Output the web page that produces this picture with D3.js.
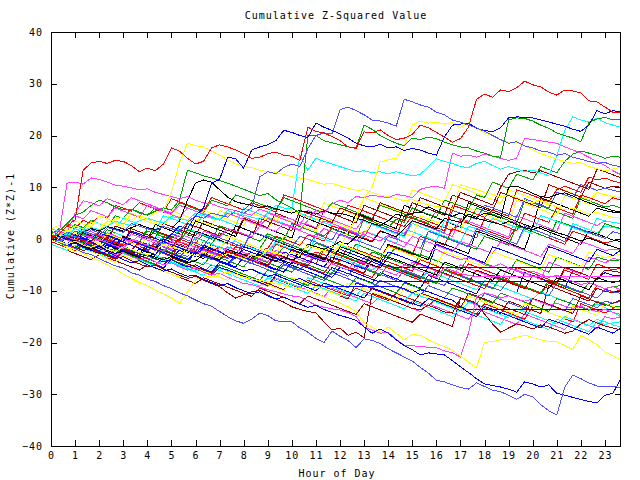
<!DOCTYPE html>
<html><head><meta charset="utf-8">
<script src="https://cdn.jsdelivr.net/npm/d3@7"></script>
<style>
body{margin:0;background:#fff}
text{font-family:"DejaVu Sans Mono",monospace;font-size:10px;letter-spacing:1px;fill:#000}
</style>
</head><body>
<svg id="c" width="640" height="480"></svg>
<script>
// ---- text / ticks ----
const chartTitle = "Cumulative Z-Squared Value";
const xTitle = "Hour of Day";
const yTitle = "Cumulative (Z*Z)-1";
const hourTicks = [0,1,2,3,4,5,6,7,8,9,10,11,12,13,14,15,16,17,18,19,20,21,22,23];
const valueTicks = [-40,-30,-20,-10,0,10,20,30,40];
const stepsPerHour = 3; // one reading every 20 minutes

// ---- series (cumulative values, one every 20 min) ----
const s01 = [0,1,2.5,3.7,13.3,14.7,15,14.6,15.2,15,14.2,13,
13.7,13.2,14.5,17.6,17,15.6,14.5,15,17.6,18.2,17.8,17.2,
16.5,15.6,15.8,16.5,16.8,16.2,16,15.2,21.6,20.8,20.5,19.8,
19,17.8,17.5,20.7,20.5,21.1,20,19.2,19.5,20.2,22,21.5,
20.6,19.7,18.7,19.4,21.6,27,28,27.4,28.8,28.5,29.2,30.5,
29.8,29.4,28.4,27.8,28.8,28.6,28.2,26.7,26.5,25.5,24.5,24.5];
const s02 = [0,-0.4,0.8,0.3,1.5,1,0.6,2.2,1.8,1.3,3,2.5,
2,1.6,2.4,2,1.5,3.2,4.5,4,5,4.6,4.2,5.5,
5,6,12,13,12.6,13.8,14.5,14,17.5,20,20.5,20.3,
25,25.5,24.8,24,23,22.8,22.4,21.8,27,26.5,25.9,25.5,
24.5,24,23,22.6,22,21.5,20.8,20,19.2,18.5,18.8,18,
17.6,17,16.8,16.2,16.5,15.8,15.4,15,14.6,14.8,14.2,14];
const s03 = [0,0.5,-0.2,0.8,0.3,-0.4,1.2,0.6,0.2,-0.5,1.5,1,
0.4,0.1,-0.5,0.9,2.5,2,4.5,6,10.8,11.5,15.8,15.5,
13.7,17.2,17.8,18.2,19,21,20.6,20,19.6,22.4,21.6,21,
20.3,19.5,18.5,18,17.8,18.3,17.6,17.8,17.1,17.5,17.2,16.6,
16.2,19.7,22,22.2,22.4,21.4,21,20.7,21.5,23.4,23.6,23.5,
23.4,23,22.6,22.2,21.8,21.2,20.8,22,24.8,24.2,24.8,24.5];
const s04 = [0,1.5,3,4.6,5.2,6.5,7.5,7,6.2,5.6,5.8,5,
4.6,5.4,6,5.6,7.5,13.3,12.8,12.2,11.8,11.3,10.8,10.2,
9.6,9,8.4,8.8,7.6,6.8,6,5,20,20,19,18.6,
18.2,17.8,17.6,22,21.2,20,19.2,18.5,18,19.5,19.2,19.7,
19.4,18.7,18.2,17.8,17.6,17,16.6,16,15.8,23,23.4,23.3,
22.8,22,21.4,20.5,20,19.5,18.8,22.5,23.2,23.5,23,23];
const s05 = [0,0.6,1.5,2.5,2,3.2,3,2.6,3.8,4.2,3.7,4.5,
4,5.2,5.3,9,14.7,18.5,18,17.8,17,16.2,15.3,14.5,
14,13.8,13.3,13,12.8,12.5,12,11.8,11.5,11,10.6,10.8,
10.2,9.8,9.4,9.5,9,8.5,8.2,7.8,7.4,7.7,7,6.6,
6.2,6.5,5.8,10.5,10,9.6,9,8.6,8.2,8.6,8,7.4,
7,7.5,6.8,6.2,5.6,6,5.4,4.8,5.2,4.6,4.2,4];
const s06 = [0,-0.5,-1,-0.4,-1.2,-1.6,-1,-2,-2.4,-1.5,-2,-2.6,
-3,-2.4,-1,-1.6,-2,-2.8,-3.2,-2.5,-3,-3.5,-2.8,-3.3,
-3.8,-3,-3.5,-2.2,-2.8,-3.2,-2.6,-3,-1.2,-1.8,-2.2,-1.5,
-2,1.5,4,8,10,14.9,15.3,15.6,18,22,22.8,22.4,
22.6,22.2,22.6,21.6,22.5,21.5,20.5,20,19.2,18.7,18.6,18,
17.2,16.5,16,15.4,15,14.6,14.8,14,13.6,13.2,13.5,13.9];
const s07 = [0,0.4,1,0.5,1.6,2.2,1.8,2.5,3.4,3,2.6,3.5,
4,3.5,3.1,4.4,4,3.6,5,4.5,4,3.7,5.5,5,
4.6,4.2,3.8,5,6.5,6,5.8,16.2,13.3,15.6,15,14.5,
14,13.5,13,13.2,12.8,13,12.6,13,12.6,12.2,12.5,14,
15.5,15,14.6,14,13.8,14.6,15,14.2,13.5,14,13.6,13,
13.3,12.8,12.2,16,21,23.6,23,22.6,23.4,22.5,22,21.6];
const s08 = [0,1,10.8,11,10.6,11.8,11.5,11,10.4,10.2,9.9,9.5,
9.7,9,8.6,8.2,7.8,8.2,7.5,7,6.8,6.2,5.8,5.5,
5,4.6,5.8,5.2,4.6,4.2,3.8,3.2,2.8,2.2,3.5,3,
2.4,1.8,1.2,0.8,0.2,-0.4,0.8,0.2,-0.6,-1.2,-1.8,-2.4,
-2,-2.8,-3.4,-4,-3.6,-4.2,-5,-5.4,-4.8,-5.6,-6.2,-6.8,
-6.2,-6.8,-7.4,-7,-7.6,-8.2,-8.8,-8.4,-9,-9.6,-9.2,-9.8];
const s09 = [0,-0.6,0.5,-0.2,0.8,0.2,-0.4,1.2,0.6,0,-0.6,0.8,
0.2,-0.4,-1,-0.5,0.9,0.4,-0.2,1.5,1,0.4,2,1.6,
1,0.4,2.5,2,1.5,3,2.4,1.8,3.6,5.5,5,6.8,
7.5,7,8.2,8,8.5,8.2,8,8.6,8.4,8,9.6,10,
10.2,9.8,16.6,16,16.2,15.8,16.4,16,15.6,15.2,15.6,19.5,
19.2,19,18.7,18.5,17.8,17.2,16.6,15.8,15,14.2,13.2,12.4];
const s10 = [0,0.5,1,0.6,1.4,2,1.6,2.4,2,1.5,2.2,2.8,
2.2,1.8,2.4,2,3.5,7.5,10.8,11.4,11,9.5,8.1,7.2,
6.8,6.5,6,6.4,5.8,5.4,5,5.5,5.2,4.8,5.4,5,
5,4.6,4,3.6,3,2.6,3.5,4.8,4.4,5,5.2,6.2,
5.5,4.8,4.4,5,4.4,4,3.6,3.2,2.8,3.4,2.8,2.2,
1.8,2.4,1.8,1.2,0.8,0.2,-0.4,0.2,-0.4,-1,-1.5,-2];
const s11 = [0,-0.5,-1,-0.6,-1.4,-2,-1.5,-2.2,-2.8,-2.4,-3,-3.6,
-3,-3.5,-4,-3.4,-4,-4.6,-4.2,-3,-3.6,-4,-2,-2.6,
-3,-3.5,-3,-3.8,-4.2,-3.6,-4,-3.4,-1,-1.5,-2,-1.4,
-0.5,-1,0.5,0,-0.6,1.5,1,0.4,2,3.5,3,2.5,
2,4,3.6,3.2,4.8,4.2,5,4.6,4,10,10.2,9.6,
8.8,8.2,8,8.6,8.9,8.3,7.6,7,6.4,6,5.5,5.2];
const s12 = [0,-0.6,-1.3,-1.8,-2.6,-3,-3.8,-4.5,-5.2,-5.6,-6.5,-7,
-7.8,-8.2,-9,-9.6,-10.4,-11,-11.8,-12.5,-13,-14,-15,-15.8,
-16.3,-15.5,-14.3,-14.8,-15.8,-16,-16,-17.2,-18,-19.2,-20,-17.8,
-18.8,-19.6,-21,-19.3,-19.6,-20.2,-21.2,-22,-22.8,-23.6,-24.8,-25.9,
-27.3,-27.6,-28.2,-28.7,-29,-27.8,-28.5,-29.2,-29.5,-30.2,-31,-30,
-30.5,-32,-33.2,-34,-28.6,-26.3,-27,-27.8,-28.4,-28.6,-28.4,-28.8];
const s13 = [0,-0.5,-1.2,-0.8,-1.6,-2.2,-2.8,-2.4,-3.2,-4,-4.6,-4.2,
-5,-5.6,-6.2,-5.8,-6.6,-7.2,-7,-7.8,-8.4,-9,-8.6,-9.4,
-10,-10.6,-10.2,-11,-11.6,-11.2,-12,-12.6,-13.2,-12.8,-13.6,-14.2,
-14.8,-15.2,-15.7,-17,-18.2,-17.4,-18.2,-19.5,-20.6,-21.4,-22.4,-22,
-22.2,-22.4,-23.5,-24.7,-25.8,-27,-28,-28.3,-28.6,-29,-29.6,-27.6,
-28,-28.6,-28.2,-29.8,-30.2,-30.6,-31,-31.4,-31.7,-30.2,-29.8,-26.9];
const s14 = [0,-0.6,-1.4,-2,-2.8,-3.5,-4.2,-5,-5.8,-6.8,-7.6,-8.4,
-9,-9.9,-10.6,-11.4,-12.4,-10.2,-8,-7,-7.4,-6.8,-6.4,-6.8,
-7.4,-7.8,-8,-8.3,-8.6,-9,-9.4,-9.6,-9.8,-10.6,-11.2,-11.8,
-12.4,-13.1,-14,-16.2,-17,-18,-17,-18.2,-19.5,-18.5,-18.6,-19.5,
-20.2,-20.8,-21.5,-22.6,-23.8,-24.9,-20,-19.8,-19.5,-19.5,-19,-18.6,
-19,-19.5,-19.8,-19.9,-20.6,-21.4,-18.6,-19.5,-20.4,-21.8,-22.6,-23.4];
const s15 = [0,-0.4,-1,-0.6,-1.4,-2,-1.6,-2.4,-3,-2.6,-3.4,-4,
-3.6,-4.4,-5,-4.6,-5.4,-6,-5.6,-6.4,-7,-6.6,-7.4,-8,
-8.6,-8.8,-9.3,-9.8,-10.2,-10.6,-11,-11.2,-12,-12.8,-13.2,-13.5,
-13.7,-14.2,-15,-17,-17.6,-18.2,-18,-19.4,-20.5,-20.6,-20.8,-20.9,
-21,-21.6,-22,-22.8,-18.2,-11.2,-10.4,-10.8,-11.4,-11,-11.6,-12,
-11.6,-12.2,-12.8,-12.4,-13,-13.4,-13,-13.6,-14,-13.6,-14.2,-14.6];
const s16 = [0,-0.5,-1,-1.6,-2.2,-1.8,-2.6,-3.2,-3.8,-3.4,-4.2,-4.8,
-5.4,-5,-5.8,-6.4,-7,-7.6,-7.2,-8,-8.6,-9.2,-10.4,-11.4,
-10.8,-10.2,-9.9,-10.8,-11.6,-12.2,-13.1,-13.6,-14,-14.3,-16,-17.6,
-17.2,-18.6,-18,-19.1,-10.5,-11,-11.6,-12.2,-12.8,-13.4,-13.7,-12.8,
-13.4,-14.1,-14.3,-11.4,-11.8,-12.4,-14.5,-16.4,-18,-17.2,-16.4,-16.8,
-17.4,-16.6,-17,-17.6,-18.2,-17.8,-16.4,-15.6,-16.2,-16.8,-17.2,-17.6];
const s17 = [0,-0.5,0.8,0.2,-0.4,-1,0.6,0,-0.6,-1.2,-0.8,-1.4,
-2,-1.6,0.5,0,-0.6,-1.2,-0.8,1,0.4,-0.2,-0.8,-1.4,
-1,-1.6,-2.2,-1.8,0.5,0,-0.6,-1.2,0.8,0.2,-0.4,2.5,
2,1.4,0.8,0.2,-0.4,1.6,1,0.4,4.5,4,3.4,2.8,
2.2,1.6,6.5,6,5.4,4.8,4.2,5.6,5,4.4,9.5,9,
8.4,7.8,7.2,9.5,10.2,9.6,9,12,11.4,11.8,11.2,10.8];
const s18 = [0,0.6,0.2,-0.4,1,0.5,-0.1,-0.6,1.2,0.6,0,-0.5,
1.5,1,0.4,-0.2,-0.6,1.8,1.2,0.6,0,2.5,2,1.4,
0.8,0.2,-0.4,1,0.4,-0.2,3,2.4,1.8,1.2,0.6,2,
1.4,0.8,0.2,4,3.4,2.8,2.2,3.8,3.2,6,5.4,4.8,
4.2,7.5,7,6.4,5.8,8.5,8,11,10.4,9.8,12.5,12,
11.4,14,13.4,12.8,15,16.4,17,16.6,16.2,15.6,16,15.8];
const s19 = [0,-0.8,0.4,-0.2,-0.9,-1.5,-1,-1.8,-2.4,-1.6,-2.2,-2.8,
-2.2,-1,-1.6,-2.2,-2.8,-3.4,-1.5,-2,-2.6,-3.2,-3.8,-3.2,
-2,-2.6,-3.2,-2.5,-0.5,-1,-1.6,-2.2,-1.6,1,0.4,-0.2,
2.2,1.6,1,0.4,3,2.4,1.8,1.2,0.6,3.5,3,2.4,
1.8,1.2,5.5,5,4.4,3.8,6.5,6,5.4,4.8,4.2,7.8,
7.2,6.6,6,9,8.5,8,10.5,10,9.4,9.8,9.4,9.1];
const s20 = [0,0.5,1.2,0.6,0,-0.6,1.5,1,0.4,-0.2,-0.8,0.8,
0.2,-0.4,-1,-1.6,0,-0.6,-1.2,-1.8,-2.4,-1.5,-2,-2.6,
-3.2,-2.6,-3.2,-3.8,-1,-1.6,-2.2,-2.8,-3.4,-2.5,-3,-3.6,
-4.2,-1.5,-2,-2.6,-3.2,-3.8,-1.2,-1.8,-2.4,-3,0.5,0,
-0.6,-1.2,2,1.4,0.8,0.2,4,3.4,2.8,2.2,1.6,5,
4.4,3.8,3.2,6,5.4,4.8,8.5,8,7.4,6.8,8,7.5];
const s21 = [0,-0.5,-1.2,-0.4,-1,-1.6,-2.2,-1.2,-1.8,-2.4,-3,-2,
-2.6,-3.2,-3.8,-4.4,-2,-2.6,-3.2,-3.8,-1,-1.6,-2.2,-2.8,
-3.4,-4,-2.5,-3,-3.6,-4.2,-4.8,-2,-2.6,-3.2,-3.8,-4.4,
-1.5,-2,-2.6,-3.2,-3.8,-4.4,-1,-1.6,-2.2,-2.8,-3.4,-4,
-0.5,-1,-1.6,-2.2,-2.8,1.5,1,0.4,-0.2,-0.8,-1.4,-2,
2.5,2,1.4,0.8,0.2,-0.4,-1,1.5,1,0.4,-0.2,-0.5];
const s22 = [0,1.2,0.6,2,1.4,0.8,0.2,1,0.4,-0.2,-0.8,-1.4,
0.5,0,-0.6,-1.2,2.5,2,1.4,0.8,0.2,-0.4,-1,-0.5,
-1.1,-1.7,-2.3,-2.9,-0.8,-1.4,-2,-2.6,-3.2,-3.8,-4.4,-3,
-3.6,-4.2,-4.8,-5.4,-6,-4.8,-5.4,-6,-6.6,-7.2,-7.8,-6.2,
-6.8,-7.4,-8,-8.6,-9.2,-9.8,-8,-8.6,-9.2,-9.8,-10.4,-11,
-11.6,-10.2,-10.8,-11.4,-12,-12.6,-13.2,-13.8,-12.5,-13.2,-14.2,-15];
const s23 = [0,-0.6,-1.2,-0.4,-1,-1.6,-2.2,-2.8,-2,-2.6,-3.2,-3.8,
-4.4,-3.2,-3.8,-4.4,-5,-5.6,-6.2,-4.5,-5,-5.6,-6.2,-6.8,
-7.4,-8,-6.5,-7,-7.6,-8.2,-8.8,-9.4,-7.5,-8,-8.6,-9.2,
-9.8,-10.4,-11,-9,-9.6,-10.2,-10.8,-11.4,-12,-10.5,-11,-11.6,
-12.2,-12.8,-13.4,-14,-12.2,-12.8,-13.4,-14,-14.6,-15.2,-13.5,-14,
-14.6,-15.2,-15.8,-16.4,-15,-15.6,-16.2,-16.8,-15.5,-16,-16.6,-17];
const s24 = [0,-0.3,-1,-1.6,-1,-1.8,-2.4,-3,-3.6,-2.5,-3.2,-3.8,
-4.4,-5,-5.6,-4,-4.6,-5.2,-5.8,-6.4,-7,-5.5,-6,-6.6,
-7.2,-7.8,-8.4,-9,-7,-7.6,-8.2,-8.8,-9.4,-10,-8.5,-9,
-9.6,-10.2,-10.8,-11.4,-9.5,-10,-10.6,-11.2,-11.8,-12.4,-13,-11.5,
-12,-12.6,-13.2,-13.8,-14.4,-15,-13,-13.6,-14.2,-14.8,-15.4,-16,
-16.6,-17.2,-15.5,-16,-16.6,-17.2,-17.8,-18.4,-17,-17.6,-18.2,-17.2];
const s25 = [0,0.4,-0.2,-0.8,1.5,1,0.4,-0.2,-0.8,-1.4,-2,-1,
-1.6,-2.2,-2.8,-3.4,-1.2,-1.8,-2.4,-3,-3.6,-4.2,-2.5,-3,
-3.6,-4.2,-4.8,-5.4,-3,-3.6,-4.2,-4.8,-5.4,-6,-6.6,-4.5,
-5,-5.6,-6.2,-6.8,-7.4,-5,-5.6,-6.2,-6.8,-7.4,-8,-8.6,
-6,-6.6,-7.2,-7.8,-8.4,-9,-9.6,-7,-7.6,-8.2,-8.8,-9.4,
-10,-10.6,-8.5,-9,-9.6,-10.2,-10.8,-11.4,-9,-9.6,-10.2,-9.9];
const s26 = [0,-0.8,-1.4,-2,-1.2,-1.8,-2.4,-3,-1.5,-2,-2.6,-3.2,
-3.8,-4.4,-5,-3.6,-4.2,-4.8,-5.4,-6,-6.6,-5,-5.6,-6.2,
-6.8,-7.4,-8,-8.6,-9.2,-9.8,-7.5,-8,-8.6,-9.2,-9.8,-10.4,
-11,-11.6,-8.5,-9,-9.6,-10.2,-10.8,-11.4,-12,-12.6,-10.5,-11,
-11.6,-12.2,-12.8,-13.4,-10.5,-11,-11.6,-12.2,-12.8,-13.4,-14,-14.6,
-11.5,-12,-12.6,-13.2,-13.8,-14.4,-11,-11.6,-12.2,-12.8,-12.4,-11.8];
const s27 = [0,0.8,0.2,1.5,1,0.4,-0.2,1.8,1.2,0.6,0,-0.6,
2,1.4,0.8,0.2,1.5,0.9,0.3,-0.3,-0.9,1.2,0.6,0,
-0.6,-1.2,-1.8,0.5,0,-0.6,-1.2,-1.8,-2.4,-0.8,-1.4,-2,
-2.6,-3.2,-1,-1.6,-2.2,-2.8,-3.4,-1.5,-2,-2.6,-3.2,1.5,
1,0.4,-0.2,-0.8,-1.4,-2,0.5,0,-0.6,-1.2,2.5,2,
1.4,0.8,0.2,3.5,3,2.4,1.8,1.2,0.6,3,2.4,2];
const s28 = [0,1.5,1,0.4,2,1.4,0.8,0.2,-0.4,-1,1,0.4,
-0.2,-0.8,-1.4,-2,-0.5,-1,-1.6,-2.2,-2.8,-3.4,-1.5,-2,
-2.6,-3.2,-3.8,-4.4,-2.2,-2.8,-3.4,-4,-4.6,-3,-3.6,-4.2,
-4.8,-5.4,-6,-3.5,-4,-4.6,-5.2,-5.8,-6.4,-4.5,-5,-5.6,
-6.2,-6.8,-7.4,-5,-5.6,-6.2,-6.8,-7.4,-8,-5.5,-6,-6.6,
-7.2,-7.8,-4.5,-5,-5.6,-6.2,-6.8,-3.5,-4,-4.6,-3.8,-4];
const s29 = [0,-0.8,-1.6,-2.4,-1.5,-2.2,-3,-3.8,-4.6,-3.2,-3.8,-4.4,
-5,-5.6,-6.2,-6.8,-7.4,-5,-5.6,-6.2,-6.8,-7.4,-8,-6.5,
-7,-7.6,-8.2,-8.8,-9.4,-10,-7.5,-8,-8.6,-9.2,-9.8,-10.4,
-11,-8.5,-9,-9.6,-10.2,-10.8,-11.4,-12,-9.5,-10,-10.6,-11.2,
-11.8,-12.4,-13,-13.6,-11,-11.6,-12.2,-12.8,-13.4,-14,-14.6,-12.5,
-13,-13.6,-14.2,-14.8,-15.4,-13,-13.6,-14.2,-14.8,-12.5,-13,-13.6];
const s30 = [0,0.5,-0.2,-0.9,0.8,0.2,-0.4,-1,-1.6,0.2,-0.4,-1,
-1.6,-2.2,-2.8,-1,-1.6,-2.2,-2.8,-3.4,-4,-2.5,-3,-3.6,
-4.2,-4.8,-3,-3.6,-4.2,-4.8,-5.4,-6,-4.2,-4.8,-5.4,-6,
-6.6,-7.2,-5,-5.6,-6.2,-6.8,-7.4,-8,-6,-6.6,-7.2,-7.8,
-8.4,-9,-6.5,-7,-7.6,-8.2,-8.8,-9.4,-10,-8,-8.6,-9.2,
-9.8,-10.4,-11,-8.5,-9,-9.6,-10.2,-10.8,-11.4,-9.8,-10.2,-10.5];
const s31 = [0,-0.6,1,0.4,-0.2,-0.8,-1.4,0.5,0,-0.6,-1.2,-1.8,
-2.4,-0.5,-1,-1.6,-2.2,-2.8,-3.4,-1.8,-2.4,-3,-3.6,-1.5,
-2,-2.6,-3.2,-3.8,-4.4,-2.5,-3,-3.6,-4.2,-4.8,-2,-2.6,
-3.2,-3.8,-4.4,-5,-3.2,-3.8,-4.4,-5,-5.6,-6.2,-4,-4.6,
-5.2,-5.8,-6.4,-7,-4.8,-5.4,-6,-6.6,-7.2,-7.8,-5.5,-6,
-6.6,-7.2,-7.8,-8.4,-6,-6.6,-7.2,-7.8,-4.8,-5.4,-6,-5.6];
const s32 = [0,0.6,0,-0.6,-1.2,0.5,0,-0.6,-1.2,-1.8,-2.4,-0.5,
-1,-1.6,-2.2,-2.8,-1,-1.6,-2.2,-2.8,-3.4,-4,-2,-2.6,
-3.2,-3.8,-4.4,-5,-2.8,-3.4,-4,-4.6,-5.2,-3,-3.6,-4.2,
-4.8,-5.4,-6,-6.6,-4,-4.6,-5.2,-5.8,-6.4,-7,-7.6,-5.5,
-6,-6.6,-7.2,-7.8,-8.4,-6,-6.6,-7.2,-7.8,-8.4,-9,-9.6,
-7,-7.6,-8.2,-8.8,-5.5,-6,-6.6,-7.2,-7.8,-6,-6.2,-6.5];
const s33 = [0,-0.4,-1,-1.6,-0.5,-1.1,-1.7,-2.3,-2.9,-1.5,-2.1,-2.7,
-3.3,-3.9,-2,-2.6,-3.2,-3.8,-4.4,-5,-3,-3.6,-4.2,-4.8,
-5.4,-3.5,-4,-4.6,-5.2,-5.8,-6.4,-4.5,-5,-5.6,-6.2,-6.8,
-4,-4.6,-5.2,-5.8,-6.4,-7,-5,-5.6,-6.2,-6.8,-7.4,-8,
-8.6,-6,-6.6,-7.2,-7.8,-8.4,-9,-9.6,-7.5,-8,-8.6,-9.2,
-9.8,-10.4,-8,-8.6,-9.2,-9.8,-10.4,-8.5,-9,-9.6,-9.2,-9];
const s34 = [0,-0.6,0.8,0.2,1.6,1,0.4,-0.2,1.2,0.6,0,-0.6,
-1.2,0.5,0,-0.6,-1.2,-1.8,0.2,-0.4,-1,-1.6,-2.2,0,
-0.6,-1.2,-1.8,-2.4,-0.5,-1,-1.6,-2.2,-2.8,0.5,0,-0.6,
-1.2,-1.8,-2.4,1.5,1,0.4,-0.2,-0.8,2,1.4,0.8,0.2,
-0.4,3.5,3,2.4,1.8,1.2,0.6,4,3.4,2.8,2.2,1.6,
1,4.5,4,3.4,2.8,2.2,1.6,1,4,3.5,3.2,3];
const s35 = [0,0.6,1.2,5,7.4,7,6.4,7.8,7.2,6.6,8,7.4,
6.8,6.2,5.6,5,6.5,6,5.4,4.8,4.2,3.6,5,4.4,
3.8,3.2,2.6,4,3.4,2.8,2.2,1.6,1,0.4,2,1.4,
0.8,0.2,-0.4,1.5,0.9,0.3,-0.3,-0.9,-1.5,0.5,0,-0.6,
-1.2,-1.8,-2.4,-0.5,-1,-1.6,-2.2,-2.8,-0.5,-1,-1.6,-2.2,
-2.8,-3.4,-1,-1.6,-2.2,-2.8,-0.5,-1,-1.6,-2.2,-2,-2];
const s36 = [0,-0.5,0.8,0.2,-0.4,1,0.4,-0.2,2.5,2,1.4,0.8,
0.2,1.6,1,0.4,-0.2,3,2.4,1.8,1.2,0.6,2,1.4,
0.8,0.2,4,3.4,2.8,2.2,1.6,5.5,5,4.4,3.8,3.2,
6,5.4,4.8,4.2,3.6,7,6.4,5.8,5.2,4.6,8,7.4,
6.8,6.2,5.6,9,8.4,7.8,7.2,6.6,10,12.5,13,13.3,
12.8,13.2,12.6,12,11.4,10.8,10.2,9.6,13.5,13,12.4,11.8];
const s37 = [0,0.8,0.2,-0.4,1.2,0.6,0,-0.6,-1.2,0.5,0,-0.6,
-1.2,-1.8,0,-0.6,-1.2,-1.8,1.5,1,0.4,-0.2,-0.8,2.5,
2,1.4,0.8,0.2,-0.4,-1,-1.6,-2.2,-2.8,-3.4,-4,-2,
-2.6,-3.2,-3.8,-4.4,-5,-5.6,-3.5,-4,-4.6,-5.2,-5.8,-6.4,
-7,-4.5,-5,-5.6,-6.2,-6.8,-7.4,-8,-6,-6.6,-7.2,-7.8,
-8.4,-9,-9.6,-7.5,-8,-8.6,-9.2,-9.8,-7.5,-8,-8.4,-8];
const s38 = [0,0.5,-0.2,0.9,0.3,-0.3,-0.9,1,0.4,-0.2,-0.8,-1.4,
0.5,0,-0.6,-1.2,-1.8,-2.4,-0.5,-1,-1.6,-2.2,0.5,0,
-0.6,-1.2,-1.8,-2.4,-3,0.5,0,-0.6,-1.2,-1.8,-2.4,-3,
-1,-1.6,-2.2,-2.8,-3.4,-4,-1.5,-2,-2.6,-3.2,-3.8,-4.4,
-5,-2.5,-3,-3.6,-4.2,-4.8,-5.4,-2.5,-3,-3.6,-4.2,-4.8,
-5.4,-6,-3,-3.6,-4.2,-4.8,-5.4,-2.5,-3,-3.6,-3.2,-3];
const s39 = [0,-0.7,-1.4,-0.5,-1.2,-1.9,-2.6,-3.3,-2,-2.6,-3.2,-3.8,
-4.4,-5,-3.5,-4,-4.6,-5.2,-5.8,-6.4,-7,-5,-5.6,-6.2,
-6.8,-7.4,-8,-6,-6.6,-7.2,-7.8,-8.4,-9,-7,-7.6,-8.2,
-8.8,-9.4,-7.5,-8,-8.6,-9.2,-9.8,-10.4,-8.5,-9,-9.6,-10.2,
-10.8,-11.4,-9.5,-10,-10.6,-11.2,-11.8,-12.4,-10.5,-11,-11.6,-12.2,
-12.8,-13.4,-14,-11.5,-12,-12.6,-13.2,-13.8,-12,-12.6,-13.2,-13];
const s40 = [0,0.6,1.4,0.8,0.2,1.8,1.2,0.6,0,-0.6,1.5,0.9,
0.3,-0.3,-0.9,1,0.4,-0.2,-0.8,-1.4,0.8,0.2,-0.4,-1,
-1.6,1.5,0.9,0.3,-0.3,-0.9,-1.5,0.5,0,-0.6,-1.2,-1.8,
1,0.4,-0.2,-0.8,-1.4,-2,0.5,0,-0.6,-1.2,-1.8,1.5,
0.9,0.3,-0.3,-0.9,-1.5,2,1.4,0.8,0.2,-0.4,-1,2.5,
1.9,1.3,0.7,0.1,-0.5,2.5,1.9,1.3,0.7,0.1,1.4,1];
const s41 = [0,-0.4,-1,0.6,0,-0.6,-1.2,-1.8,0,-0.6,-1.2,-1.8,
-2.4,-3,-1,-1.6,-2.2,-2.8,-3.4,-1.5,-2,-2.6,-3.2,-3.8,
-1.5,-2,-2.6,-3.2,-3.8,-4.4,-2,-2.6,-3.2,-3.8,-4.4,-1.5,
-2,-2.6,-3.2,-3.8,-4.4,-5,-2.5,-3,-3.6,-4.2,-4.8,-5.4,
-1,-1.6,-2.2,-2.8,-3.4,-4,-4.6,-1.5,-2,-2.6,-3.2,-3.8,
-4.4,-5,-1.5,-2,-2.6,-3.2,-3.8,-4.4,-2,-2.6,-3.2,-2.1];
const s42 = [0,-0.4,-1,-0.5,-1.2,-1.8,-1.4,-2.2,-2.8,-2.2,-3,-3.6,
-3,-3.8,-4.4,-4,-4.8,-5.4,-5,-5.8,-6.4,-4.5,-5,-5.6,
-6.2,-5.8,-6.6,-7.2,-6.8,-7.6,-8.2,-7.6,-8.4,-9,-9.1,-9.1,
-9.1,-9.1,-9.1,-9.1,-9.1,-9.1,-9.1,-9.1,-9.6,-10.4,-9.8,-10.2,
-10.8,-11.4,-11.8,-13.1,-13.7,-13.7,-13.7,-13.7,-13.7,-13.7,-13.7,-13.7,
-13.7,-13.7,-13.7,-13.7,-13.7,-13.7,-13.7,-13.7,-13.7,-13.7,-13.7,-13.7];
const s43 = [0,-0.6,-1.2,-0.5,-1.1,-1.7,-2.3,-1,-1.6,-2.2,-2.8,-3.4,
-1.5,-2,-2.6,-3.2,-3.8,-4.4,-2.5,-3,-3.6,-4.2,-4.8,-5.4,
-3.5,-4,-4.6,-5.2,-5.8,-6.4,-4.5,-5,-5.6,-6.2,-6.8,-7.4,
-5.5,-6,-6.6,-7.2,-7.8,-8.3,-8.3,-8.3,-8.3,-8.3,-8.3,-8.3,
-8.3,-8.3,-8.3,-8.3,-8.3,-8.3,-8.3,-8.3,-8.3,-8.3,-8.3,-8.3,
-8.3,-8.3,-8.3,-8.3,-8.3,-8.3,-8.3,-8.3,-8.3,-8.3,-8.3,-8.3];
const s44 = [0,0.5,-0.1,-0.7,0.8,0.2,-0.4,-1,-1.6,0.3,-0.3,-0.9,
-1.5,-2.1,-0.5,-1.1,-1.7,-2.3,-2.9,-1.2,-1.8,-2.4,-3,-3.6,
-2,-2.6,-3.2,-3.8,-4.4,-2.5,-3,-3.6,-4.2,-4.8,-5.4,-3.5,
-4,-4.6,-5.2,-5.8,-4,-4.6,-5.2,-5.6,-5.6,-5.6,-5.6,-5.6,
-5.6,-5.6,-5.6,-5.6,-5.6,-5.6,-5.6,-5.6,-5.6,-5.6,-5.6,-5.6,
-5.6,-5.6,-5.6,-5.6,-5.6,-5.6,-5.6,-5.6,-5.6,-5.6,-5.6,-5.6];
const s45 = [0,0.4,-0.2,-0.8,-1.4,0.5,-0.1,-0.7,-1.3,-1.9,0,-0.6,
-1.2,-1.8,-2.4,-0.5,-1.1,-1.7,-2.3,-2.9,-3.5,-1.5,-2.1,-2.7,
-3.3,-3.9,-4.5,-2.5,-3.1,-3.7,-4.3,-4.9,-3,-3.6,-4.2,-4.8,
-5.4,-6,-4,-4.6,-5.2,-5.8,-6.4,-7,-5,-5.6,-6.2,-6.8,
-7.4,-5.5,-6.1,-6.7,-7,-7.3,-7.3,-7.3,-7.3,-7.3,-7.3,-7.3,
-7.3,-7.3,-7.3,-7.3,-7.3,-7.3,-7.3,-7.3,-7.3,-7.3,-7.3,-7.3];
const s46 = [1,2,1.4,2.8,2.2,3.6,3,2.4,4.5,4,5.8,5.2,
4.6,6,5.4,4.8,7,6.4,5.8,5.2,7.5,7,6.4,8.5,
8,7.4,6.8,6.2,5.6,8,7.4,6.8,6.2,5.6,5,7,
6.4,5.8,5.2,4.6,4,6.5,6,5.4,4.8,4.2,3.6,3,
5.5,5,4.4,3.8,3.2,6,5.4,4.8,4.2,3.6,3,7.5,
7,6.4,5.8,5.2,4.6,4,8,7.4,6.8,6.2,6.5,6];
const s47 = [2,1.5,3,2.4,1.8,3.5,3,2.4,1.8,4,3.4,2.8,
2.2,1.6,4.5,4,3.4,2.8,2.2,5,4.4,3.8,3.2,2.6,
6,5.4,4.8,4.2,3.6,3,2.4,5,4.4,3.8,3.2,2.6,
2,1.4,4,3.4,2.8,2.2,1.6,1,0.4,3,2.4,1.8,
1.2,0.6,0,-0.6,2.5,2,1.4,0.8,0.2,-0.4,-1,2,
1.4,0.8,0.2,-0.4,-1,3,2.4,1.8,1.2,2.5,2.2,2];
const s48 = [0.5,1,2.5,2,3.6,3,4.5,4,6.5,6,5.4,7,
6.4,5.8,5.2,7.8,7.2,6.6,6,5.4,8,7.4,6.8,6.2,
5.6,7,6.4,5.8,5.2,8.5,8,7.4,6.8,6.2,5.6,5,
4.4,6.5,6,5.4,4.8,4.2,3.6,3,2.4,4.5,4,3.4,
2.8,2.2,1.6,3.5,3,2.4,1.8,1.2,0.6,0,2.5,2,
1.4,0.8,0.2,-0.4,-1,1.5,1,0.4,-0.2,-0.8,-0.4,0];
const s49 = [1,0.4,1.8,1.2,0.6,2.2,1.6,3.5,3,2.4,1.8,4,
3.4,2.8,2.2,4.8,4.2,3.6,3,5.5,5,4.4,3.8,3.2,
2.6,5,4.4,3.8,3.2,6,5.4,4.8,4.2,3.6,7,6.4,
5.8,5.2,4.6,8,7.4,6.8,6.2,5.6,5,9.5,9,8.4,
7.8,7.2,10.5,10,9.4,8.8,8.2,7.6,7,9.5,9,8.4,
7.8,7.2,6.6,10,9.4,8.8,8.2,7.6,9,8.5,8.2,8];
const s50 = [0,-0.6,-1.2,-1.8,-1,-1.6,-2.2,-2.8,-3.4,-2.5,-3.1,-3.7,
-4.3,-4.9,-5.5,-4,-4.6,-5.2,-5.8,-6.4,-7,-5.5,-6.1,-6.7,
-7.3,-7.9,-8.5,-9.1,-7.5,-8.1,-8.7,-9.3,-9.9,-10.5,-11.1,-9.5,
-10.1,-10.7,-11.3,-11.9,-12.5,-11,-11.6,-12.2,-12.8,-13.4,-14,-12.5,
-13.1,-13.7,-14.3,-14.9,-15.5,-13.5,-14.1,-14.7,-15.3,-15.9,-16.5,-14.5,
-15.1,-15.7,-16.3,-16.9,-17.5,-15.5,-16.1,-16.7,-17.3,-15,-15.4,-15];
const s51 = [-1,-1.6,-2.2,-2.8,-3.4,-4,-3,-3.6,-4.2,-4.8,-5.4,-6,
-5,-5.6,-6.2,-6.8,-7.4,-8,-8.6,-7.5,-8.1,-8.7,-9.3,-9.9,
-10.5,-11.1,-9.5,-10.1,-10.7,-11.3,-11.9,-12.5,-11,-11.6,-12.2,-12.8,
-13.4,-14,-14.6,-12.5,-13.1,-13.7,-14.3,-14.9,-15.5,-16.1,-14.5,-15.1,
-15.7,-16.3,-16.9,-11.5,-12.1,-12.7,-13.3,-13.9,-14.5,-12,-12.6,-13.2,
-13.8,-14.4,-9,-9.6,-10.2,-10.8,-11.4,-12,-9.5,-10.1,-10.4,-10];
const s52 = [1.5,0.9,0.3,-0.3,-0.9,0.8,0.2,-0.4,-1,-1.6,-2.2,-0.5,
-1.1,-1.7,-2.3,-2.9,-3.5,-2,-2.6,-3.2,-3.8,-4.4,-5,-3.5,
-4.1,-4.7,-5.3,-5.9,-6.5,-5,-5.6,-6.2,-6.8,-7.4,-8,-6.5,
-7.1,-7.7,-8.3,-8.9,-9.5,-8,-8.6,-9.2,-9.8,-10.4,-11,-9,
-9.6,-10.2,-10.8,-11.4,-12,-12.6,-10.5,-11.1,-11.7,-12.3,-12.9,-13.5,
-11.5,-12.1,-12.7,-13.3,-13.9,-11.5,-12.1,-12.7,-13.3,-12,-12.4,-12];
const s53 = [0,0.6,1.2,0.6,2,1.4,0.8,0.2,2.5,1.9,1.3,0.7,
0.1,2.8,2.2,1.6,1,0.4,3.5,2.9,2.3,1.7,1.1,0.5,
3.8,3.2,2.6,2,1.4,0.8,0.2,4.5,3.9,3.3,2.7,2.1,
1.5,0.9,5,4.4,3.8,3.2,2.6,2,6.5,5.9,5.3,4.7,
4.1,3.5,2.9,2.3,7,6.4,5.8,5.2,4.6,4,3.4,2.8,
2.2,8,7.4,6.8,6.2,5.6,5,4.4,6,5.5,5.2,5];
const s54 = [-0.5,-1.1,0.5,-0.1,-0.7,-1.3,-1.9,-0.5,-1.1,-1.7,-2.3,-2.9,
-1,-1.6,-2.2,-2.8,-3.4,-4,-2.5,-3.1,-3.7,-4.3,-4.9,-3,
-3.6,-4.2,-4.8,-5.4,-6,-4.5,-5.1,-5.7,-6.3,-6.9,-7.5,-5.5,
-6.1,-6.7,-7.3,-7.9,-8.5,-6.5,-7.1,-7.7,-8.3,-8.9,-9.5,-7,
-7.6,-8.2,-8.8,-9.4,-10,-10.6,-8,-8.6,-9.2,-9.8,-10.4,-6.5,
-7.1,-7.7,-8.3,-8.9,-9.5,-6,-6.6,-7.2,-7.8,-6.5,-7,-7];
const s55 = [0.5,-0.1,1.2,0.6,0,1.8,1.2,0.6,0,-0.6,2,1.4,
0.8,0.2,3,2.4,1.8,1.2,0.6,3.5,2.9,2.3,1.7,1.1,
4,3.4,2.8,2.2,5,4.4,3.8,3.2,2.6,2,5.5,4.9,
4.3,3.7,3.1,6.5,5.9,5.3,4.7,4.1,3.5,7,6.4,5.8,
5.2,4.6,8.5,7.9,7.3,6.7,6.1,5.5,9,8.4,7.8,7.2,
6.6,6,10.5,9.9,9.3,8.7,8.1,11,10.4,9.8,10.2,10];
const s56 = [-1,-1.6,-2.2,-1.2,-1.8,-2.4,-3,-3.6,-2.2,-2.8,-3.4,-4,
-4.6,-5.2,-4,-4.6,-5.2,-5.8,-6.4,-7,-5.5,-6.1,-6.7,-7.3,
-7.9,-8.5,-9.1,-7.5,-8.1,-8.7,-9.3,-9.9,-10.5,-9,-9.6,-10.2,
-10.8,-11.4,-12,-10.5,-11.1,-11.7,-12.3,-12.9,-13.5,-12,-12.6,-13.2,
-13.8,-14.4,-15,-13.5,-14.1,-14.7,-15.3,-15.9,-16.5,-14.5,-15.1,-15.7,
-16.3,-16.9,-17.5,-15.5,-16.1,-16.7,-17.3,-17.9,-16,-16.5,-16.2,-16];
const s57 = [0,0.5,-0.1,-0.7,1,0.4,-0.2,-0.8,-1.4,0.5,-0.1,-0.7,
-1.3,-1.9,0,-0.6,-1.2,-1.8,-2.4,-0.5,-1.1,-1.7,-2.3,-2.9,
-1,-1.6,-2.2,-2.8,-3.4,-1.5,-2.1,-2.7,-3.3,-3.9,-1.8,-2.4,
-3,-3.6,-4.2,-4.8,-2.5,-3.1,-3.7,-4.3,-4.9,-5.5,-3,-3.6,
-4.2,-4.8,-5.4,-6,-3.5,-4.1,-4.7,-5.3,-5.9,-6.5,-4,-4.6,
-5.2,-5.8,-6.4,-3.5,-4.1,-4.7,-5.3,-5.9,-3.5,-4,-4.2,-4];
const s58 = [2,2.6,1.8,3.5,2.9,2.3,4.5,3.9,3.3,2.7,5,4.4,
3.8,3.2,2.6,5.5,4.9,4.3,3.7,3.1,2.5,5.5,4.9,4.3,
3.7,3.1,2.5,1.9,4.5,3.9,3.3,2.7,2.1,1.5,4,3.4,
2.8,2.2,1.6,1,3.5,2.9,2.3,1.7,1.1,0.5,4.5,3.9,
3.3,2.7,2.1,1.5,6,5.4,4.8,4.2,3.6,3,7.5,6.9,
6.3,5.7,5.1,4.5,8.5,7.9,7.3,6.7,9,8.6,8.2,8];
const s59 = [-0.5,-1.1,-1.7,-2.3,-1.5,-2.1,-2.7,-3.3,-3.9,-2.5,-3.1,-3.7,
-4.3,-4.9,-5.5,-4,-4.6,-5.2,-5.8,-6.4,-5,-5.6,-6.2,-6.8,
-7.4,-8,-6.5,-7.1,-7.7,-8.3,-8.9,-9.5,-8,-8.6,-9.2,-9.8,
-10.4,-11,-9.5,-10.1,-10.7,-11.3,-11.9,-10.5,-11.1,-11.7,-12.3,-12.9,
-11.5,-12.1,-12.7,-13.3,-13.9,-14.5,-12.5,-13.1,-13.7,-14.3,-14.9,-15.5,
-13,-13.6,-14.2,-14.8,-15.4,-16,-12.5,-13.1,-13.7,-14.3,-13.4,-13];
const s60 = [1,1.6,2.8,4.5,3.9,5.5,4.9,4.3,6,5.4,4.8,4.2,
6.5,5.9,5.3,4.7,4.1,6,5.4,4.8,4.2,3.6,5.5,4.9,
4.3,3.7,3.1,5,4.4,3.8,3.2,2.6,5.5,4.9,4.3,3.7,
3.1,2.5,1.9,4,3.4,2.8,2.2,1.6,1,3.5,2.9,2.3,
1.7,1.1,0.5,4,3.4,2.8,2.2,1.6,1,0.4,4.5,3.9,
3.3,2.7,2.1,1.5,5,4.4,3.8,3.2,2.6,3.5,3.2,3];

const seriesList = [s46,s47,s48,s49,s50,s51,s52,s53,s54,s55,s56,s57,s58,s59,s60,
  s17,s18,s19,s20,s21,s22,s23,s24,s25,s26,s27,s28,s29,s30,s31,s32,s33,s34,s35,s36,s37,s38,s39,s40,s41,s42,s43,s44,s45,
  s16,s15,s14,s13,s12,s11,s10,s09,s08,s07,s06,s05,s04,s03,s02,s01];
const seriesColorKeys = ["G","C","R","Y","M","D","S","K","B","D","C","G","Y","R","M",
  "R","G","S","R","K","C","C","B","R","D","G","M","Y","S","R","D","G","C","M","D","K","Y","G","S","B","B","B","B","M",
  "D","M","Y","B","S","K","K","M","M","C","Y","Y","G","B","S","R"];
const palette = {R:"#ff0000",G:"#00a000",B:"#0000ff",M:"#ff40ff",C:"#00ffff",D:"#a00000",Y:"#ffff00",K:"#000000",S:"#5050ff"};

// ---- drawing ----
const svg = d3.select("#c");
const L=51, R=621, T=32, B=446;
const maxHour = 71/stepsPerHour;
const x = d3.scaleLinear().domain([0, maxHour]).range([L, R]);
const y = d3.scaleLinear().domain([-40, 40]).range([B, T]);

svg.append("defs").append("clipPath").attr("id","clip")
  .append("rect").attr("x",L).attr("y",T).attr("width",R-L).attr("height",B-T);

const line = d3.line().x((d,i)=>x(i/stepsPerHour)).y(d=>y(d));
const g = svg.append("g").attr("clip-path","url(#clip)");
seriesList.forEach((s,k)=>{
  g.append("path").attr("d", line(s)).attr("fill","none")
   .attr("stroke", palette[seriesColorKeys[k]]).attr("stroke-width",1)
   .attr("shape-rendering","crispEdges");
});

function styleAxis(sel){
  sel.select(".domain").remove();
  sel.selectAll("line").attr("stroke","#000").attr("shape-rendering","crispEdges");
  sel.selectAll("text").style("font-family","'DejaVu Sans Mono',monospace").style("font-size","10px").attr("fill","#000");
}
svg.append("g").attr("transform",`translate(0,${B})`)
  .call(d3.axisBottom(x).tickValues(hourTicks).tickSize(-6).tickPadding(6).tickFormat(d3.format("d")))
  .call(styleAxis);
svg.append("g").attr("transform",`translate(0,${T})`)
  .call(d3.axisTop(x).tickValues(hourTicks).tickSize(-6).tickFormat(""))
  .call(styleAxis);
svg.append("g").attr("transform",`translate(${L},0)`)
  .call(d3.axisLeft(y).tickValues(valueTicks).tickSize(-6).tickPadding(8).tickFormat(d3.format("d")))
  .call(styleAxis);
svg.append("g").attr("transform",`translate(${R},0)`)
  .call(d3.axisRight(y).tickValues(valueTicks).tickSize(-6).tickFormat(""))
  .call(styleAxis);

svg.append("rect").attr("x",L+0.5).attr("y",T+0.5).attr("width",R-L-1).attr("height",B-T)
  .attr("fill","none").attr("stroke","#000").attr("stroke-width",1).attr("shape-rendering","crispEdges");

svg.append("text").attr("x",336).attr("y",19).attr("text-anchor","middle").text(chartTitle);
svg.append("text").attr("x",337).attr("y",477).attr("text-anchor","middle").text(xTitle);
svg.append("text").attr("transform","translate(14,236) rotate(-90)").attr("text-anchor","middle").text(yTitle);
</script>
</body></html>
